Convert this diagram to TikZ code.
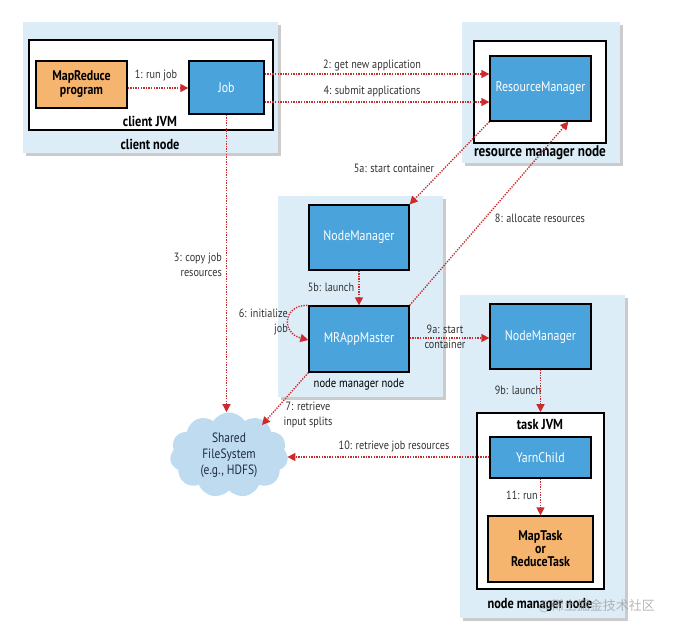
\documentclass[tikz,border=0pt]{standalone}
\usepackage{fontspec}
\setmainfont{PT Sans}[FakeStretch=0.85]
\newfontfamily\cjk{Noto Sans CJK SC}
\usetikzlibrary{arrows.meta,shapes.symbols,shadows,calc}
\definecolor{panelblue}{HTML}{DCEDF8}
\definecolor{boxblue}{HTML}{4BA3DC}
\definecolor{boxorange}{HTML}{F5B56E}
\definecolor{arrred}{HTML}{CC2B2B}
\definecolor{cloudblue}{HTML}{BFDBF0}
\definecolor{lblgray}{HTML}{333333}
\definecolor{cloudtext}{HTML}{1E2A44}
\tikzset{
  panel/.style={fill=panelblue, draw=none, inner sep=0pt,
    drop shadow={shadow xshift=2.5pt, shadow yshift=-2.5pt, fill=black!45, opacity=0.45}},
  jvmbox/.style={fill=white, draw=black, line width=1.6pt, inner sep=0pt},
  bluebox/.style={fill=boxblue, draw=black, line width=1.3pt, text=white, inner sep=1pt,
    font=\fontsize{14}{16}\selectfont, align=center},
  orangebox/.style={fill=boxorange, draw=black, line width=1.3pt, text=black, inner sep=1pt,
    font=\fontsize{14}{16}\selectfont\bfseries, align=center},
  paneltitle/.style={font=\fontsize{14.5}{16}\selectfont\bfseries, text=black, inner sep=0pt},
  lbl/.style={font=\fontsize{12}{15}\selectfont, text=lblgray, inner sep=0pt, align=center},
  arr/.style={draw=arrred, line width=1.4pt, dash pattern=on 1.3pt off 1.3pt,
    -{Triangle[length=8pt,width=8pt]}},
}
\begin{document}
\begin{tikzpicture}[x=1pt,y=-1pt]
\useasboundingbox (0,0) rectangle (673,633);
% panels
\node[panel, minimum width=255pt, minimum height=131pt] (cnode) at (150.5,87.5) {};
\node[panel, minimum width=158pt, minimum height=141pt] (rmnode) at (541,92.5) {};
\node[panel, minimum width=165pt, minimum height=201pt] (nmnode) at (360.5,296.5) {};
\node[panel, minimum width=165pt, minimum height=323pt] (nmnodeb) at (542.5,456.5) {};
% white JVM boxes
\node[jvmbox, minimum width=244pt, minimum height=90pt] (cjvm) at (151,85) {};
\node[jvmbox, minimum width=132pt, minimum height=102pt] (rmjvm) at (540,92) {};
\node[jvmbox, minimum width=127pt, minimum height=176pt] (tjvm) at (540.5,501) {};
% boxes
\node[orangebox, minimum width=91pt, minimum height=47pt] (mr) at (81.5,84.5) {MapReduce\\[-2pt]program};
\node[bluebox, minimum width=75pt, minimum height=53pt] (job) at (226.5,87.5) {Job};
\node[bluebox, minimum width=101pt, minimum height=65pt] (rm) at (540.5,88.5) {ResourceManager};
\node[bluebox, minimum width=100pt, minimum height=65pt] (nm) at (359,237.5) {NodeManager};
\node[bluebox, minimum width=100pt, minimum height=66pt] (mram) at (359,339) {MRAppMaster};
\node[bluebox, minimum width=101pt, minimum height=65pt] (nmb) at (540.5,336.5) {NodeManager};
\node[bluebox, minimum width=101pt, minimum height=41pt] (yc) at (540.5,457.5) {YarnChild};
\node[orangebox, minimum width=105pt, minimum height=66pt] (task) at (540.5,549) {MapTask\\[-3pt]or\\[-3pt]ReduceTask};
\node[cloud, cloud puffs=11, cloud puff arc=115, aspect=1.4, fill=cloudblue, draw=none,
  minimum width=118pt, minimum height=84pt, text=cloudtext, align=center,
  font=\fontsize{13.5}{16}\selectfont] (fs) at (229,455) {Shared\\FileSystem\\(e.g., HDFS)};
% panel titles
\node[paneltitle] (t1) at (150,121) {client JVM};
\node[paneltitle] (t2) at (150,144) {client node};
\node[paneltitle, font=\fontsize{15.5}{17}\selectfont\bfseries] (t3) at (540,153) {resource manager node};
\node[paneltitle, font=\fontsize{12.5}{14}\selectfont] (t4) at (359,384) {node manager node};
\node[paneltitle] (t5) at (540,425) {task JVM};
\node[paneltitle] (t6) at (540,605) {node manager node};
% helper coordinates
\coordinate (y1) at (0,88);
\coordinate (y2) at (0,74);
\coordinate (y4) at (0,102);
\coordinate (y9) at (0,338);
\coordinate (y10) at (0,457);
\coordinate (c7) at (262,425);
\coordinate (r8) at ($(rm.south)!0.545!(rm.south east)$);
% arrows
\draw[arr] (mr.east|-y1) -- (job.west|-y1);
\draw[arr] (job.east|-y2) -- (rm.west|-y2);
\draw[arr] (job.east|-y4) -- (rm.west|-y4);
\draw[arr] (job.south) -- (job.south|-fs.north);
\draw[arr] (rm.south west) -- (nm.north east);
\draw[arr] (nm.south) -- (mram.north);
\draw[arr] ([xshift=-1pt]mram.north west) .. controls (283,305) and (281,333) .. ([yshift=-1pt]mram.west);
\draw[arr] (mram.south west) -- (c7);
\draw[arr] (mram.north east) -- (r8);
\draw[arr] (mram.east|-y9) -- (nmb.west|-y9);
\draw[arr] (nmb.south) -- (tjvm.north);
\draw[arr] (yc.west|-y10) -- (fs.east|-y10);
\draw[arr] (yc.south) -- (task.north);
% labels
\node[lbl] (l1) at (156,75) {1: run job};
\node[lbl] (l2) at (372,65) {2: get new application};
\node[lbl] (l4) at (372,91) {4: submit applications};
\node[lbl, align=right, anchor=east] (l3) at (222,264.5) {3: copy job\\resources};
\node[lbl] (l5a) at (394,168) {5a: start container};
\node[lbl] (l5b) at (331,287) {5b: launch};
\node[lbl, align=right, anchor=east] (l6) at (288,322) {6: initialize\\job};
\node[lbl] (l7) at (308,415) {7: retrieve\\input splits};
\node[lbl] (l8) at (540,218) {8: allocate resources};
\node[lbl] (l9a) at (445,337) {9a: start\\container};
\node[lbl] (l9b) at (518,390) {9b: launch};
\node[lbl] (l10) at (394,446) {10: retrieve job resources};
\node[lbl] (l11) at (522,495) {11: run};
% watermark
\node[anchor=east, text=black!40, opacity=0.7, inner sep=0pt, font=\cjk\fontsize{13}{15}\selectfont] (wm) at (655,606) {@稀土掘金技术社区};
\end{tikzpicture}
\end{document}
